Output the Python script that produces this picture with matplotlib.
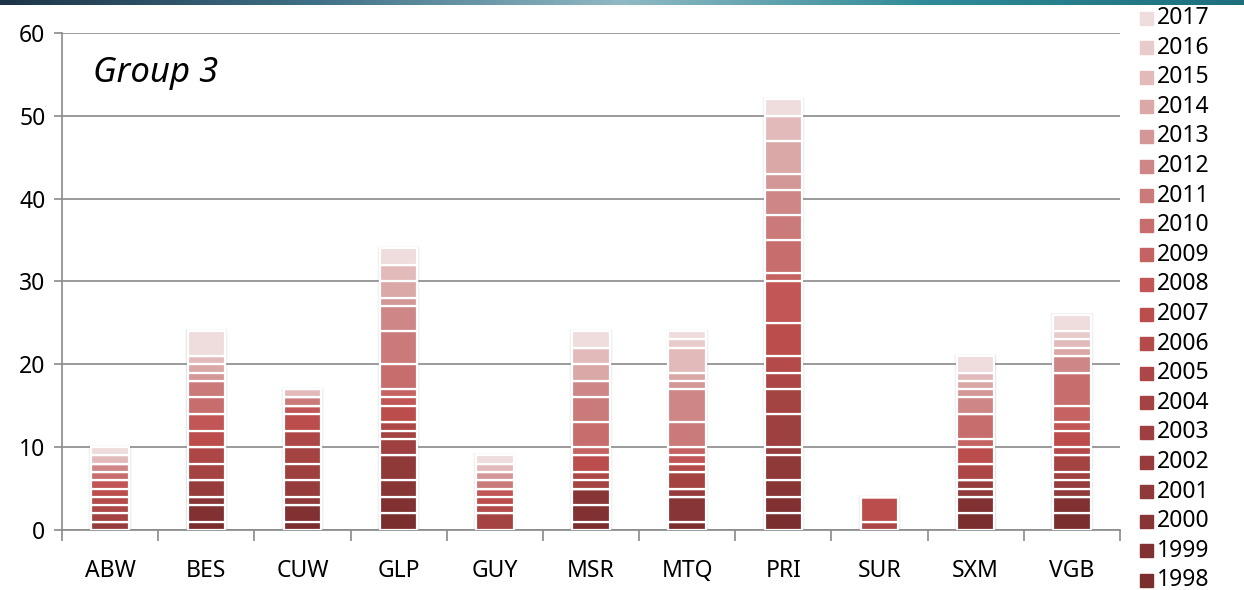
import numpy as np
import matplotlib.pyplot as plt
from matplotlib.colors import LinearSegmentedColormap
from matplotlib.patches import Rectangle

years = list(range(1998, 2018))
countries = ["ABW", "BES", "CUW", "GLP", "GUY", "MSR", "MTQ", "PRI", "SUR", "SXM", "VGB"]

# counts per year, 1998 -> 2017
abw = [0, 0, 0, 0, 1, 0, 1, 1, 1, 1, 1, 0, 1, 0, 1, 0, 0, 1, 0, 1]
bes = [1, 2, 1, 0, 2, 0, 2, 2, 0, 2, 2, 0, 2, 2, 0, 1, 1, 1, 0, 3]
cuw = [1, 2, 0, 1, 2, 2, 2, 2, 0, 2, 1, 0, 0, 1, 0, 0, 0, 1, 0, 0]
glp = [2, 2, 2, 3, 0, 2, 1, 1, 0, 2, 1, 1, 3, 4, 3, 1, 2, 2, 0, 2]
guy = [0, 0, 0, 0, 0, 0, 2, 0, 1, 1, 1, 0, 0, 1, 0, 1, 0, 1, 0, 1]
msr = [1, 2, 2, 0, 0, 0, 1, 1, 0, 2, 0, 1, 3, 3, 2, 0, 2, 2, 0, 2]
mtq = [1, 0, 3, 0, 1, 0, 2, 0, 1, 0, 1, 1, 0, 3, 4, 1, 1, 3, 1, 1]
pri = [2, 2, 2, 3, 1, 4, 3, 2, 2, 4, 5, 1, 4, 3, 3, 2, 4, 3, 0, 2]
sur = [0, 0, 0, 0, 0, 0, 0, 1, 0, 3, 0, 0, 0, 0, 0, 0, 0, 0, 0, 0]
sxm = [2, 2, 0, 1, 1, 0, 0, 2, 0, 2, 0, 1, 3, 0, 2, 1, 1, 1, 0, 2]
vgb = [2, 2, 0, 1, 1, 1, 2, 0, 1, 2, 1, 2, 4, 0, 2, 0, 1, 1, 1, 2]

data = np.array([abw, bes, cuw, glp, guy, msr, mtq, pri, sur, sxm, vgb]).T  # years x countries

plt.rcParams['font.family'] = ['Noto Sans', 'DejaVu Sans']

cmap = LinearSegmentedColormap.from_list(
    "reds", ["#7a2e2e", "#9c3f3f", "#c04f4f", "#cf8989", "#efdcdc"])
colors = [cmap(i / (len(years) - 1)) for i in range(len(years))]

fig = plt.figure(figsize=(12.44, 5.9), dpi=100)
ax = fig.add_axes([62 / 1244, 60 / 590, 1058 / 1244, 497 / 590])

x = np.arange(len(countries))
totals = data.sum(axis=0)
w = 0.39

# soft shadow around the bars
for extra, a in [(0.06, 0.025), (0.04, 0.035), (0.022, 0.045)]:
    ax.bar(x, totals + extra * 4, width=w + extra, color="black", alpha=a, zorder=1, linewidth=0)

bottom = np.zeros(len(countries))
for i, yr in enumerate(years):
    vals = data[i]
    ax.bar(x, vals, width=w, bottom=bottom, color=colors[i],
           edgecolor="white", linewidth=1.6, zorder=3)
    bottom += vals

ax.set_xlim(-0.5, len(countries) - 0.5)
ax.set_ylim(0, 60)
ax.set_yticks(range(0, 61, 10))
ax.set_xticks(x)
ax.set_xticklabels(countries)
ax.set_xticks(np.arange(-0.5, len(countries)), minor=True)

gray = "#8a8a8a"
ax.yaxis.grid(True, color=gray, linewidth=1.2, zorder=0)
ax.set_axisbelow(True)
for s in ["top", "right"]:
    ax.spines[s].set_visible(False)
ax.spines["left"].set_color(gray)
ax.spines["bottom"].set_color(gray)
ax.spines["left"].set_linewidth(1.2)
ax.spines["bottom"].set_linewidth(1.2)
ax.tick_params(axis="y", length=6, width=1.2, color=gray, labelsize=16.5, pad=6)
ax.tick_params(axis="x", which="major", length=0, labelsize=16.5, pad=21)
ax.tick_params(axis="x", which="minor", length=8, width=1.2, color=gray)

ax.text(0.029, 0.92, "Group 3", transform=ax.transAxes, fontsize=25,
        style="italic", va="center", ha="left")

# legend, newest year on top
for k, yr in enumerate(years[::-1]):
    yc = 1 - (18 + k * 29.6) / 590
    fig.add_artist(Rectangle((1140 / 1244, yc - 6.5 / 590), 13 / 1244, 13 / 590,
                             transform=fig.transFigure, color=colors[len(years) - 1 - k]))
    fig.text(1157 / 1244, yc, str(yr), fontsize=16.5, va="center", ha="left")

# thin gradient band at the very top
band = fig.add_axes([0, 1 - 5 / 590, 1, 5 / 590])
grad = LinearSegmentedColormap.from_list("band", ["#1d3448", "#3f6f86", "#8fb9c4", "#2f8a97", "#1e6f7d"])
band.imshow(np.linspace(0, 1, 256)[None, :], aspect="auto", cmap=grad)
band.axis("off")

fig.savefig("out.png", dpi=100)
